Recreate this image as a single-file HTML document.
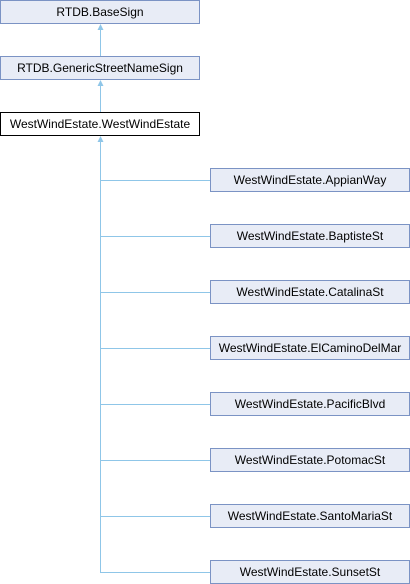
<!DOCTYPE html>
<html><head><style>
body{margin:0;width:410px;height:584px;background:#fff;position:relative;font-family:"Liberation Sans",sans-serif;font-size:12px;overflow:hidden}
.b{position:absolute;width:198px;height:22px;border:1px solid #7b93c4;background:#e8ecf6;color:#000;text-align:center;line-height:22px;white-space:nowrap}
.w{background:#fff;border-color:#000}
</style></head><body>
<svg width="410" height="584" style="position:absolute;left:0;top:0">
<g stroke="#8fc6e8" stroke-width="1" fill="none">
<line x1="100.5" y1="28" x2="100.5" y2="56"/>
<line x1="100.5" y1="84" x2="100.5" y2="112"/>
<line x1="100.5" y1="140" x2="100.5" y2="572.5"/>
<line x1="100" y1="180.5" x2="210" y2="180.5"/>
<line x1="100" y1="236.5" x2="210" y2="236.5"/>
<line x1="100" y1="292.5" x2="210" y2="292.5"/>
<line x1="100" y1="348.5" x2="210" y2="348.5"/>
<line x1="100" y1="404.5" x2="210" y2="404.5"/>
<line x1="100" y1="460.5" x2="210" y2="460.5"/>
<line x1="100" y1="516.5" x2="210" y2="516.5"/>
<line x1="100" y1="572.5" x2="210" y2="572.5"/>
</g>
<g fill="#8fc6e8">
<polygon points="100.5,24 97.5,30 103.5,30"/>
<polygon points="100.5,80 97.5,86 103.5,86"/>
<polygon points="100.5,136 97.5,142 103.5,142"/>
</g>
</svg>
<div class="b" style="left:0;top:0">RTDB.BaseSign</div>
<div class="b" style="left:0;top:56px">RTDB.GenericStreetNameSign</div>
<div class="b w" style="left:0;top:112px">WestWindEstate.WestWindEstate</div>
<div class="b" style="left:210px;top:168px">WestWindEstate.AppianWay</div>
<div class="b" style="left:210px;top:224px">WestWindEstate.BaptisteSt</div>
<div class="b" style="left:210px;top:280px">WestWindEstate.CatalinaSt</div>
<div class="b" style="left:210px;top:336px">WestWindEstate.ElCaminoDelMar</div>
<div class="b" style="left:210px;top:392px">WestWindEstate.PacificBlvd</div>
<div class="b" style="left:210px;top:448px">WestWindEstate.PotomacSt</div>
<div class="b" style="left:210px;top:504px">WestWindEstate.SantoMariaSt</div>
<div class="b" style="left:210px;top:560px">WestWindEstate.SunsetSt</div>
</body></html>
